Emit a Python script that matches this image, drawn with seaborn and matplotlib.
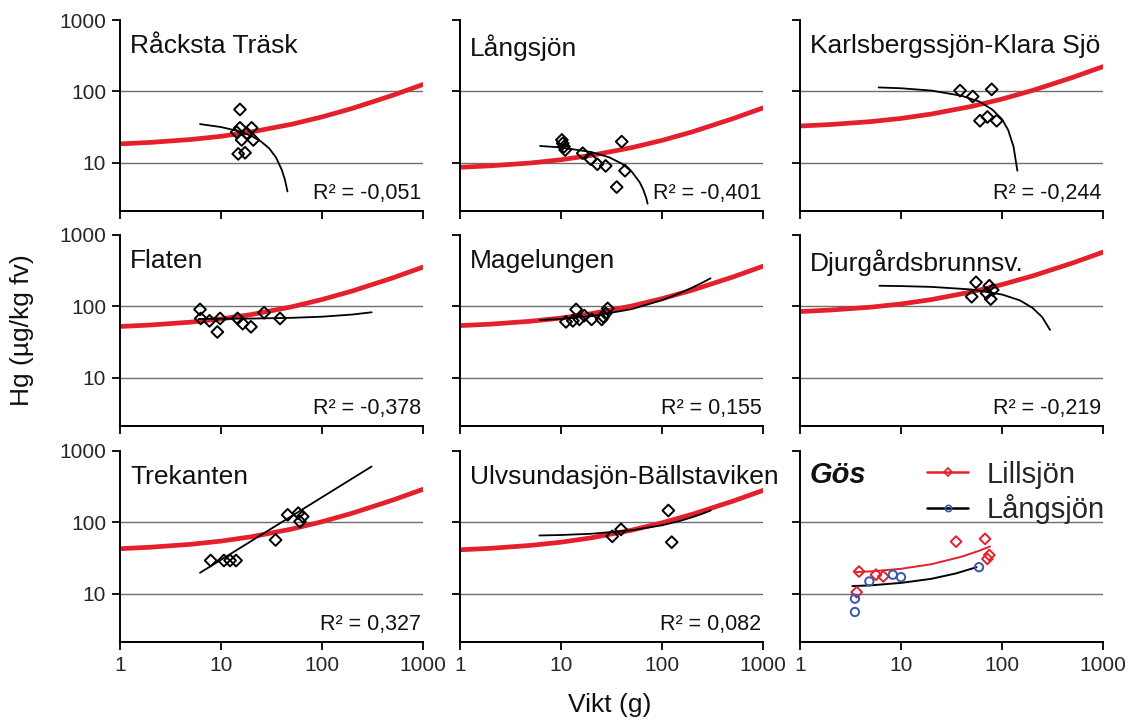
import matplotlib
matplotlib.use("Agg")
import matplotlib.pyplot as plt
import seaborn as sns
from matplotlib.lines import Line2D
from matplotlib.ticker import FixedLocator, FixedFormatter, NullLocator

# ---------------- data ----------------
titles = ["Råcksta Träsk", "Långsjön", "Karlsbergssjön-Klara Sjö",
          "Flaten", "Magelungen", "Djurgårdsbrunnsv.",
          "Trekanten", "Ulvsundasjön-Bällstaviken"]
r2_labels = ["R² = -0,051", "R² = -0,401", "R² = -0,244",
             "R² = -0,378", "R² = 0,155", "R² = -0,219",
             "R² = 0,327", "R² = 0,082"]

# red reference curves (same x for all panels)
ref_x = [1, 2, 5, 10, 20, 50, 100, 200, 500, 1000]
ref_racksta = [18.5, 19.4, 21.3, 23.6, 27.2, 34.8, 44.1, 58.1, 88.4, 125.3]
ref_langsjon = [8.7, 9.13, 10.0, 11.1, 12.8, 16.4, 20.7, 27.3, 41.6, 58.9]
ref_karlsberg = [32.9, 34.5, 37.9, 42.0, 48.4, 61.9, 78.4, 103.3, 157.2, 222.8]
ref_flaten = [52.5, 55.1, 60.4, 67.0, 77.2, 98.8, 125.2, 164.9, 250.8, 355.6]
ref_magelungen = [54, 56.6, 62.2, 68.9, 79.4, 101.6, 128.7, 169.6, 258.0, 365.7]
ref_djurgard = [85, 89.2, 97.8, 108.5, 125.0, 159.9, 202.6, 267.0, 406.1, 575.7]
ref_trekanten = [43, 45.1, 49.5, 54.9, 63.2, 80.9, 102.5, 135.1, 205.5, 291.2]
ref_ulvsunda = [41.5, 43.5, 47.8, 53.0, 61.0, 78.1, 98.9, 130.4, 198.3, 281.1]

# measured points
racksta_x = [15.4, 15.4, 20.1, 14.3, 18.0, 16.0, 20.9, 14.8, 17.3]
racksta_y = [56, 31, 31, 27, 26, 21, 21, 13.4, 13.9]
langsjon_x = [10.2, 10.4, 10.7, 11.0, 16.4, 19.7, 22.9, 27.7, 39.9, 43.0, 35.6]
langsjon_y = [21, 18.8, 16.9, 15.2, 13.7, 11.3, 9.6, 9.1, 19.9, 7.8, 4.6]
karlsberg_x = [38.4, 51.3, 79, 60.5, 71.6, 88.5]
karlsberg_y = [103, 85, 107, 39, 44, 39]
flaten_x = [6.2, 6.3, 7.7, 9.8, 9.2, 14.6, 16.4, 19.8, 26.7, 38.4]
flaten_y = [91, 68, 63, 68, 44, 68, 57.5, 52, 82, 68]
magelungen_x = [11.2, 13.1, 14.1, 15.2, 17.0, 20.1, 25.3, 26.2, 27.7, 29.0]
magelungen_y = [61, 63, 91, 66, 74.5, 66, 66, 72, 80, 94]
djurgard_x = [55.3, 74.9, 50.1, 70.5, 80.9, 77.3]
djurgard_y = [218, 195, 137, 153, 170, 127]
trekanten_x = [7.9, 10.7, 12.3, 14.1, 34.7, 45.7, 58.2, 60.5, 64.4]
trekanten_y = [29.4, 29.4, 29.4, 29.4, 57, 128, 135, 103, 121]
ulvsunda_x = [32.2, 39.3, 115.6, 124.8]
ulvsunda_y = [64, 80, 147, 53]

# black fitted curves
racksta_fx = [6.2, 10, 15, 20, 25, 30, 35, 40, 43, 45.5]
racksta_fy = [35, 31.8, 27.9, 23.9, 19.9, 16, 12, 8, 5.8, 4.0]
langsjon_fx = [6.2, 10, 20, 30, 40, 50, 60, 65, 70, 72]
langsjon_fy = [17.3, 16.5, 14.2, 12.0, 9.8, 7.6, 5.4, 4.3, 3.2, 2.7]
karlsberg_fx = [6, 10, 20, 40, 60, 80, 100, 115, 130, 142]
karlsberg_fy = [114, 111, 103, 87, 72, 56, 41, 29, 17, 7.8]
flaten_fx = [6, 20, 50, 100, 200, 310]
flaten_fy = [67, 67.8, 69.4, 72, 77.2, 83]
magelungen_fx = [6.2, 10, 20, 50, 100, 150, 200, 250, 303]
magelungen_fy = [64.7, 67, 73.2, 91.8, 122.6, 153.5, 184.3, 215, 248]
djurgard_fx = [6.1, 10, 20, 50, 100, 150, 200, 250, 299]
djurgard_fy = [195, 193, 188, 173, 147, 122, 96, 71, 47]
trekanten_fx = [6.2, 310]
trekanten_fy = [19.8, 607]
ulvsunda_fx = [6.1, 10, 20, 50, 100, 150, 200, 250, 303]
ulvsunda_fy = [65.8, 66.8, 69.6, 77.8, 91.4, 105, 118.7, 132.4, 147]

# Gös panel
lill_x = [3.84, 3.64, 5.65, 6.68, 35.1, 67.9, 71.6, 74.9]
lill_y = [20.6, 10.6, 18.6, 17.6, 54, 59, 31, 35]
lill_fx = [3.5, 5, 10, 20, 40, 60, 76]
lill_fy = [20.2, 20.7, 22.5, 26.1, 33.3, 40.4, 46.2]
lang_x = [3.5, 3.5, 4.86, 8.3, 10, 59.2]
lang_y = [8.6, 5.6, 15, 18.6, 17.2, 23.7]
lang_fx = [3.3, 5, 10, 20, 35, 56]
lang_fy = [12.9, 13.2, 14.3, 16.3, 19.4, 23.7]

refs = [ref_racksta, ref_langsjon, ref_karlsberg, ref_flaten, ref_magelungen,
        ref_djurgard, ref_trekanten, ref_ulvsunda]
pts = [(racksta_x, racksta_y), (langsjon_x, langsjon_y), (karlsberg_x, karlsberg_y),
       (flaten_x, flaten_y), (magelungen_x, magelungen_y), (djurgard_x, djurgard_y),
       (trekanten_x, trekanten_y), (ulvsunda_x, ulvsunda_y)]
fits = [(racksta_fx, racksta_fy), (langsjon_fx, langsjon_fy), (karlsberg_fx, karlsberg_fy),
        (flaten_fx, flaten_fy), (magelungen_fx, magelungen_fy), (djurgard_fx, djurgard_fy),
        (trekanten_fx, trekanten_fy), (ulvsunda_fx, ulvsunda_fy)]

x_ticks = [1, 10, 100, 1000]
x_ticklabels = ["1", "10", "100", "1000"]
y_ticks = [10, 100, 1000]
y_ticklabels = ["10", "100", "1000"]
grid_levels = [10, 100]

# ---------------- style ----------------
sns.set_theme(style="ticks")
plt.rcParams["font.family"] = ["Liberation Sans", "DejaVu Sans"]

RED = "#e3202b"
BLUE = "#3a57b0"
GRID = "#6e6e6e"

W, H = 1133, 722
fig = plt.figure(figsize=(W / 100, H / 100), dpi=100)
col_left = [120, 460, 800]
row_top = [20, 235, 451]
aw, ah = 303, 191

axes = []
for i in range(9):
    r, c = divmod(i, 3)
    ax = fig.add_axes([col_left[c] / W, 1 - (row_top[r] + ah) / H, aw / W, ah / H])
    ax.set_xscale("log")
    ax.set_yscale("log")
    ax.set_xlim(1, 1000)
    ax.set_ylim(2.13, 1000)
    for g in grid_levels:
        ax.axhline(g, color=GRID, lw=1.0, zorder=0)
    ax.xaxis.set_major_locator(FixedLocator(x_ticks))
    ax.yaxis.set_major_locator(FixedLocator(y_ticks))
    ax.xaxis.set_minor_locator(NullLocator())
    ax.yaxis.set_minor_locator(NullLocator())
    if r == 2:
        ax.xaxis.set_major_formatter(FixedFormatter(x_ticklabels))
    else:
        ax.xaxis.set_major_formatter(FixedFormatter([""] * 4))
    if c == 0:
        ax.yaxis.set_major_formatter(FixedFormatter(y_ticklabels))
    else:
        ax.yaxis.set_major_formatter(FixedFormatter([""] * 3))
    ax.tick_params(axis="both", direction="out", length=6, width=1.3,
                   color="black", labelsize=15, pad=4)
    for s in ["top", "right"]:
        ax.spines[s].set_visible(False)
    for s in ["left", "bottom"]:
        ax.spines[s].set_linewidth(1.4)
        ax.spines[s].set_color("black")
    axes.append(ax)

for i in range(8):
    ax = axes[i]
    sns.lineplot(x=ref_x, y=refs[i], ax=ax, color=RED, lw=3.4,
                 estimator=None, sort=False, zorder=2)
    fx, fy = fits[i]
    sns.lineplot(x=fx, y=fy, ax=ax, color="black", lw=1.3,
                 estimator=None, sort=False, zorder=3)
    px, py = pts[i]
    sns.scatterplot(x=px, y=py, ax=ax, marker="D", s=36,
                    facecolors="none", edgecolor="black", linewidth=1.4, zorder=4)
    ax.text(0.033, 0.925, titles[i], transform=ax.transAxes, ha="left", va="top",
            fontsize=19, color="#111111")
    ax.text(0.995, 0.035, r2_labels[i], transform=ax.transAxes, ha="right",
            va="bottom", fontsize=15.5, color="#111111")
    ax.set_xlabel("")
    ax.set_ylabel("")

ax = axes[8]
sns.lineplot(x=lill_fx, y=lill_fy, ax=ax, color=RED, lw=1.4,
             estimator=None, sort=False, zorder=3)
sns.lineplot(x=lang_fx, y=lang_fy, ax=ax, color="black", lw=1.4,
             estimator=None, sort=False, zorder=3)
sns.scatterplot(x=lill_x, y=lill_y, ax=ax, marker="D", s=30,
                facecolors="none", edgecolor=RED, linewidth=1.4, zorder=4)
sns.scatterplot(x=lang_x, y=lang_y, ax=ax, marker="o", s=36,
                facecolors="none", edgecolor=BLUE, linewidth=1.4, zorder=4)
ax.set_xlabel("")
ax.set_ylabel("")
ax.text(0.033, 0.95, "Gös", transform=ax.transAxes, ha="left", va="top",
        fontsize=21, fontweight="bold", fontstyle="italic", color="#111111")
handles = [
    Line2D([], [], color=RED, lw=1.8, marker="D", markersize=4,
           markerfacecolor="none", markeredgecolor=RED, markeredgewidth=1.2),
    Line2D([], [], color="black", lw=1.8, marker="o", markersize=4.5,
           markerfacecolor="none", markeredgecolor=BLUE, markeredgewidth=1.2),
]
ax.legend(handles, ["Lillsjön", "Långsjön"], loc="upper left",
          bbox_to_anchor=(0.42, 0.95), frameon=False, fontsize=21,
          handlelength=1.4, handletextpad=0.65, labelspacing=0.2,
          borderpad=0, borderaxespad=0)

fig.text(22 / W, 1 - 330 / H, "Hg (µg/kg fv)", rotation=90, ha="center",
         va="center", fontsize=19, color="#111111")
fig.text(610 / W, 1 - 705 / H, "Vikt (g)", ha="center", va="center",
         fontsize=19, color="#111111")

fig.savefig("out.png", dpi=100)
